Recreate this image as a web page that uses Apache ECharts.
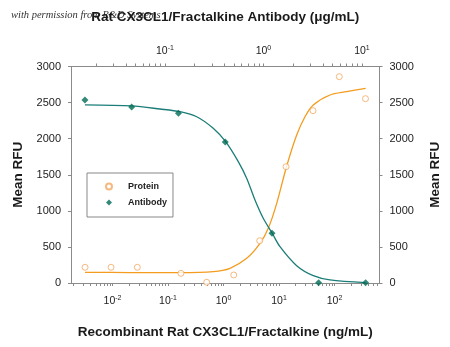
<!DOCTYPE html>
<html><head><meta charset="utf-8">
<script src="https://cdn.jsdelivr.net/npm/echarts@6/dist/echarts.min.js"></script>
<style>html,body{margin:0;padding:0;background:#fff}#c{width:450px;height:347px}</style>
</head><body><div id="c"></div>
<script>
// Measured points: protein (ng/mL, bottom axis), antibody (ug/mL, top axis)
const proteinConc = [0.0032, 0.0094, 0.028, 0.171, 0.498, 1.53, 4.49, 13.4, 41.0, 122, 362];
const proteinRFU  = [218, 218, 218, 134, 10, 111, 586, 1612, 2388, 2859, 2554];
const antibodyConc = [0.0154, 0.0459, 0.137, 0.409, 1.22, 3.63, 10.9];
const antibodyRFU  = [2536, 2439, 2352, 1954, 689, 4, 4];
// Fitted curves
const proteinFitConc = [0.0032, 0.0207, 0.164, 0.655, 1.309, 2.618, 4.55, 6.41, 9.10, 13.77, 20.84, 29.38, 41.5, 83.0, 166, 365];
const proteinFitRFU  = [148, 145, 143, 157, 204, 342, 550, 758, 1104, 1621, 2051, 2304, 2467, 2605, 2651, 2698];
const antibodyFitConc = [0.0154, 0.0459, 0.0889, 0.142, 0.210, 0.309, 0.413, 0.555, 0.675, 0.820, 0.995, 1.227, 1.472, 2.173, 3.206, 4.73, 10.9];
const antibodyFitRFU  = [2467, 2453, 2411, 2374, 2304, 2144, 1958, 1681, 1451, 1150, 897, 689, 503, 240, 101, 42, 4];
// Axes
const bottomDecades = [-2, -1, 0, 1, 2];
const topDecades = [-1, 0, 1];
const bottomRange = [-2.748, 2.811];
const topRange = [-1.954, 1.178];
const yMin = 0, yMax = 3000, yStep = 500;

const FONT = "'Liberation Sans Narrow','Liberation Sans',Arial,sans-serif";
const AX = '#8a8a8a';
const ORANGE_LINE = '#f39c1f', ORANGE_PT = '#f2a860';
const TEAL_LINE = '#1b7d78', TEAL_PT = '#006b55';
const TITLE = { fontFamily: FONT, fontSize: 13.5, fontWeight: 'bold', color: '#1a1a1a' };

function pairs(xs, ys) { return xs.map((x, i) => [Math.log10(x), ys[i]]); }

function logAxis(pos, range, decades, name, labelMargin) {
  const ticks = [];
  for (let n = Math.floor(range[0]) - 1; n <= Math.ceil(range[1]); n++) {
    for (let k = 1; k <= 9; k++) {
      const v = n + Math.log10(k);
      if (v >= range[0] && v <= range[1]) ticks.push(v);
    }
  }
  return {
    type: 'value', position: pos, min: range[0], max: range[1],
    name: name, nameLocation: 'middle', nameGap: 42,
    nameTextStyle: TITLE,
    axisLine: { show: true, onZero: false, lineStyle: { color: AX, width: 1 } },
    axisTick: { show: true, inside: false, length: 3, customValues: ticks, lineStyle: { color: AX } },
    axisLabel: {
      customValues: decades, margin: labelMargin,
      formatter: v => '{b|10}{s|' + Math.round(v) + '}',
      rich: {
        b: { fontFamily: FONT, fontSize: 10.5, color: '#222', lineHeight: 13 },
        s: { fontFamily: FONT, fontSize: 7, color: '#222', verticalAlign: 'top', lineHeight: 13 }
      }
    },
    splitLine: { show: false }
  };
}

function yAxis(pos, gap) {
  return {
    type: 'value', position: pos, min: yMin, max: yMax, interval: yStep,
    name: 'Mean RFU', nameLocation: 'middle', nameGap: gap, nameRotate: 90,
    nameTextStyle: TITLE,
    axisLine: { show: true, onZero: false, lineStyle: { color: AX, width: 1 } },
    axisTick: { show: true, inside: false, length: 3, lineStyle: { color: AX } },
    axisLabel: { fontFamily: FONT, fontSize: 11, color: '#222', margin: 10, formatter: v => String(v) },
    splitLine: { show: false }
  };
}

const chart = echarts.init(document.getElementById('c'), null, { renderer: 'canvas' });
chart.setOption({
  animation: false,
  backgroundColor: '#fff',
  grid: { left: 71, right: 70.5, top: 66.5, bottom: 64, outerBoundsMode: 'none' },
  graphic: [{
    type: 'text', left: 11, top: 10, z: -10,
    style: { text: 'with permission from R&D Systems', font: 'italic 10.5px "Liberation Serif", serif', fill: '#333' }
  }],
  legend: {
    data: ['Protein', 'Antibody'], orient: 'vertical', left: 87, top: 173,
    padding: [8, 6, 9, 18], itemGap: 5, itemWidth: 6, itemHeight: 6,
    borderColor: '#888', borderWidth: 1, backgroundColor: '#fff',
    textStyle: { fontFamily: FONT, fontSize: 9, fontWeight: 'bold', color: '#222', lineHeight: 11, padding: [0, 0, 0, 11] }
  },
  xAxis: [
    logAxis('bottom', bottomRange, bottomDecades, 'Recombinant Rat CX3CL1/Fractalkine (ng/mL)', 12),
    logAxis('top', topRange, topDecades, 'Rat CX3CL1/Fractalkine Antibody (\u03bcg/mL)', 9)
  ],
  yAxis: [yAxis('left', 45), yAxis('right', 48.5)],
  series: [
    { name: 'Protein fit', type: 'line', xAxisIndex: 0, yAxisIndex: 0, data: pairs(proteinFitConc, proteinFitRFU),
      showSymbol: false, smooth: 0.3, silent: true, lineStyle: { color: ORANGE_LINE, width: 1.3 }, z: 2 },
    { name: 'Antibody fit', type: 'line', xAxisIndex: 1, yAxisIndex: 0, data: pairs(antibodyFitConc, antibodyFitRFU),
      showSymbol: false, smooth: 0.3, silent: true, lineStyle: { color: TEAL_LINE, width: 1.3 }, z: 2 },
    { name: 'Protein', type: 'scatter', xAxisIndex: 0, yAxisIndex: 0, data: pairs(proteinConc, proteinRFU),
      symbol: 'circle', symbolSize: 6, itemStyle: { color: '#fff', borderColor: ORANGE_PT, borderWidth: 1 }, z: 3 },
    { name: 'Antibody', type: 'scatter', xAxisIndex: 1, yAxisIndex: 0, data: pairs(antibodyConc, antibodyRFU),
      symbol: 'diamond', symbolSize: 7, itemStyle: { color: TEAL_PT }, z: 4 }
  ]
});
</script></body></html>
